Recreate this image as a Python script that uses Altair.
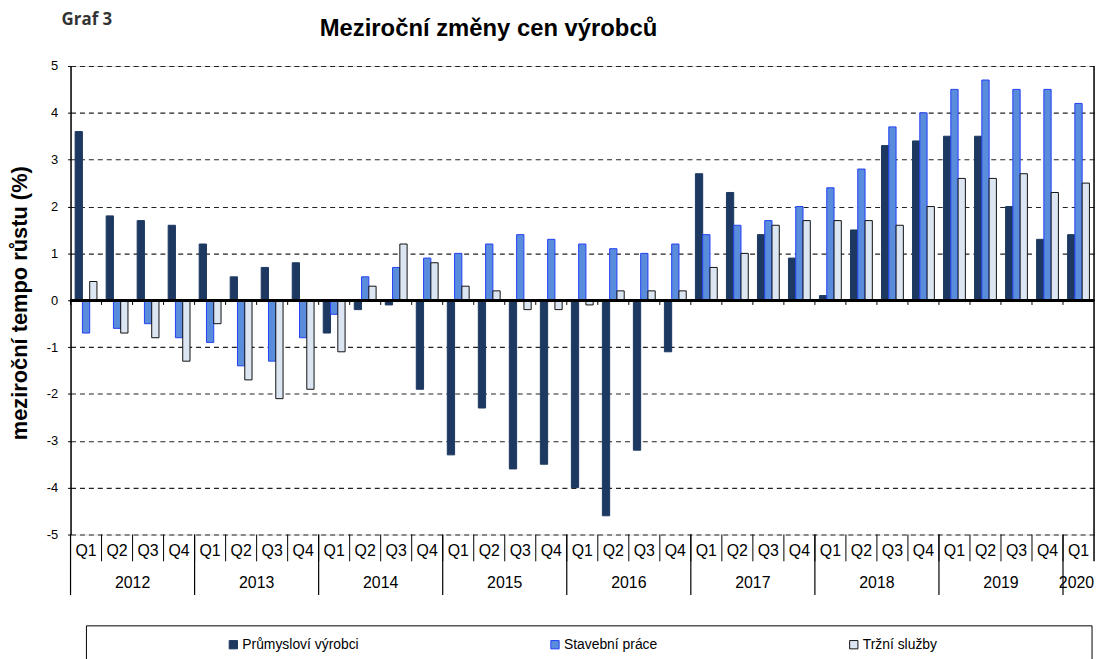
import altair as alt
import pandas as pd

# ---- data ----
years = ["2012"] * 4 + ["2013"] * 4 + ["2014"] * 4 + ["2015"] * 4 + ["2016"] * 4 + \
        ["2017"] * 4 + ["2018"] * 4 + ["2019"] * 4 + ["2020"]
quarters = ["Q1", "Q2", "Q3", "Q4"] * 8 + ["Q1"]

prumyslovi = [3.6, 1.8, 1.7, 1.6, 1.2, 0.5, 0.7, 0.8,
              -0.7, -0.2, -0.1, -1.9, -3.3, -2.3, -3.6, -3.5,
              -4.0, -4.6, -3.2, -1.1, 2.7, 2.3, 1.4, 0.9,
              0.1, 1.5, 3.3, 3.4, 3.5, 3.5, 2.0, 1.3, 1.4]
stavebni = [-0.7, -0.6, -0.5, -0.8, -0.9, -1.4, -1.3, -0.8,
            -0.3, 0.5, 0.7, 0.9, 1.0, 1.2, 1.4, 1.3,
            1.2, 1.1, 1.0, 1.2, 1.4, 1.6, 1.7, 2.0,
            2.4, 2.8, 3.7, 4.0, 4.5, 4.7, 4.5, 4.5, 4.2]
trzni = [0.4, -0.7, -0.8, -1.3, -0.5, -1.7, -2.1, -1.9,
         -1.1, 0.3, 1.2, 0.8, 0.3, 0.2, -0.2, -0.2,
         -0.1, 0.2, 0.2, 0.2, 0.7, 1.0, 1.6, 1.7,
         1.7, 1.7, 1.6, 2.0, 2.6, 2.6, 2.7, 2.3, 2.5]

series_names = ["Průmysloví výrobci", "Stavební práce", "Tržní služby"]
fills = ["#1d3961", "#5a8cdc", "#dce6f2"]
strokes = ["#1d3961", "#2340f5", "#111111"]

periods = [f"{y} {q}" for y, q in zip(years, quarters)]

rows = []
for name, vals in zip(series_names, [prumyslovi, stavebni, trzni]):
    for p, y, q, v in zip(periods, years, quarters, vals):
        rows.append({"period": p, "year": y, "quarter": q, "series": name, "value": v})
df = pd.DataFrame(rows)

per_df = pd.DataFrame({"period": periods, "year": years, "quarter": quarters})
q1_df = per_df[per_df["quarter"] == "Q1"]
full_year_df = per_df[(per_df["quarter"] == "Q2")]
last_year_df = per_df[(per_df["year"] == "2020")]

W, H = 1031, 472
FONT = "Liberation Sans, Arial, sans-serif"

xscale = alt.Scale(domain=periods, paddingInner=0, paddingOuter=0)


def X(band=0.5):
    return alt.X("period:N", sort=periods, scale=xscale, axis=None, bandPosition=band)


legend_def = dict(title=None, orient="none", direction="horizontal",
                  legendX=157, legendY=576, symbolType="square",
                  symbolSize=70, symbolStrokeWidth=1,
                  labelFont=FONT, labelFontSize=14, labelColor="#000000",
                  columnPadding=190, labelOffset=2, padding=0)

bars = alt.Chart(df).mark_bar(strokeWidth=1).encode(
    x=alt.X("period:N", sort=periods, scale=xscale, axis=None),
    xOffset=alt.XOffset("series:N", sort=series_names,
                        scale=alt.Scale(domain=series_names, paddingInner=0, paddingOuter=0.63)),
    y=alt.Y("value:Q", scale=alt.Scale(domain=[-5, 5], nice=False, zero=False),
            axis=alt.Axis(values=list(range(-5, 6)), grid=True, gridDash=[5, 4],
                          gridColor="#222222", gridWidth=1.1, domainColor="#000000",
                          domainWidth=1.5, ticks=True, tickSize=3, tickColor="#000000",
                          labelFont=FONT, labelFontSize=13, labelColor="#000000",
                          labelExpr="'' + datum.value",
                          labelPadding=10, title=None)),
    color=alt.Color("series:N", sort=series_names,
                    scale=alt.Scale(domain=series_names, range=fills),
                    legend=alt.Legend(**legend_def)),
    stroke=alt.Stroke("series:N", sort=series_names,
                      scale=alt.Scale(domain=series_names, range=strokes),
                      legend=alt.Legend(**legend_def)),
)

zero_line = alt.Chart(per_df).mark_rule(color="#000000", strokeWidth=2).encode(
    y=alt.datum(0)
)

zero_ticks = alt.Chart(per_df).mark_rule(color="#000000", strokeWidth=1).encode(
    x=X(0), y=alt.datum(0), y2=alt.datum(-0.1)
)

right_border = alt.Chart(per_df.tail(1)).mark_rule(color="#000000", strokeWidth=1.5).encode(
    x=X(1), y=alt.value(0), y2=alt.value(499)
)

q_sep = alt.Chart(per_df).mark_rule(color="#000000", strokeWidth=1).encode(
    x=X(0), y=alt.value(H), y2=alt.value(499)
)

y_sep = alt.Chart(q1_df).mark_rule(color="#000000", strokeWidth=1.2).encode(
    x=X(0), y=alt.value(H), y2=alt.value(533)
)

q_text = alt.Chart(per_df).mark_text(font=FONT, fontSize=16, color="#000000",
                                     baseline="middle").encode(
    x=X(0.5), y=alt.value(489), text="quarter:N"
)

yr_text = alt.Chart(full_year_df).mark_text(font=FONT, fontSize=16, color="#000000",
                                            baseline="middle").encode(
    x=X(1), y=alt.value(521), text="year:N"
)

yr_text_last = alt.Chart(last_year_df).mark_text(font=FONT, fontSize=16, color="#000000",
                                                 baseline="middle", dx=-2).encode(
    x=X(0.5), y=alt.value(521), text="year:N"
)

title_df = pd.DataFrame({"t": ["Meziroční změny cen výrobců"]})
graf_df = pd.DataFrame({"t": ["Graf 3"]})
ytitle_df = pd.DataFrame({"t": ["meziroční tempo růstu (%)"]})
box_df = pd.DataFrame({"t": ["legend"]})

title = alt.Chart(title_df).mark_text(font=FONT, fontSize=24, fontWeight="bold",
                                      color="#000000", baseline="middle").encode(
    x=alt.value(421), y=alt.value(-37), text="t:N"
)
graf = alt.Chart(graf_df).mark_text(font="Open Sans", fontSize=17, fontWeight="bold",
                                    color="#333333", baseline="middle", align="left").encode(
    x=alt.value(-9), y=alt.value(-46), text="t:N"
)
ytitle = alt.Chart(ytitle_df).mark_text(font=FONT, fontSize=22, fontWeight="bold",
                                        color="#000000", baseline="middle", angle=270).encode(
    x=alt.value(-51), y=alt.value(239), text="t:N"
)
legend_box = alt.Chart(box_df).mark_rect(fill="transparent", stroke="#000000",
                                         strokeWidth=1).encode(
    x=alt.value(16), x2=alt.value(1029), y=alt.value(564), y2=alt.value(610)
)

chart = alt.layer(
    bars, zero_ticks, q_sep, y_sep, right_border, zero_line,
    q_text, yr_text, yr_text_last, title, graf, ytitle, legend_box
).properties(
    width=W, height=H,
    autosize=alt.AutoSizeParams(type="none"),
    padding={"left": 63, "top": 56, "right": 3, "bottom": 123},
).configure_view(stroke=None).configure(background="white")

chart.save("out.html", embed_options={"renderer": "svg", "actions": False})
